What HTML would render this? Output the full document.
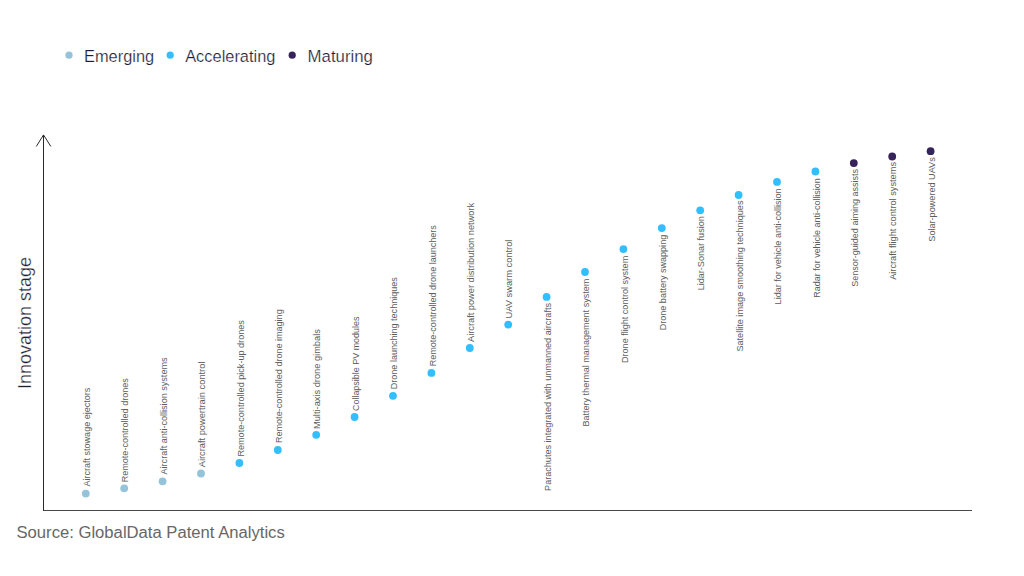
<!DOCTYPE html>
<html><head><meta charset="utf-8"><style>
html,body{margin:0;padding:0;background:#fff;}
body{width:1024px;height:576px;overflow:hidden;position:relative;font-family:"Liberation Sans",sans-serif;}
svg{position:absolute;left:0;top:0;}
</style></head><body>
<svg width="1024" height="576" viewBox="0 0 1024 576" font-family="Liberation Sans, sans-serif">
<circle cx="69" cy="55.2" r="3.6" fill="#94c3da"/>
<circle cx="170.2" cy="55.2" r="3.6" fill="#33bfff"/>
<circle cx="292.2" cy="55.2" r="3.6" fill="#35235a"/>
<g font-size="16.4" fill="#1c1c36" stroke="#fff" stroke-width="0.22">
<text x="84" y="62">Emerging</text>
<text x="185.2" y="62">Accelerating</text>
<text x="307.6" y="62" textLength="65.3" lengthAdjust="spacingAndGlyphs">Maturing</text>
</g>
<line x1="43" y1="510.5" x2="972" y2="510.5" stroke="#484848" stroke-width="1"/>
<g stroke="#2a2a2a" stroke-width="1" fill="none">
<line x1="43.5" y1="135" x2="43.5" y2="511"/>
<polyline points="36.3,146.4 43.5,134.9 50.8,146.4"/>
</g>
<text x="31" y="389" font-size="18" fill="#1e1e30" stroke="#fff" stroke-width="0.25" transform="rotate(-90 31 389)">Innovation stage</text>
<text x="16.5" y="537.6" font-size="16.65" fill="#676767">Source: GlobalData Patent Analytics</text>
<circle cx="85.80" cy="493.60" r="3.9" fill="#94c3da"/>
<circle cx="124.20" cy="488.30" r="3.9" fill="#94c3da"/>
<circle cx="162.60" cy="481.30" r="3.9" fill="#94c3da"/>
<circle cx="201.00" cy="473.50" r="3.9" fill="#94c3da"/>
<circle cx="239.40" cy="463.00" r="3.9" fill="#33bfff"/>
<circle cx="277.80" cy="450.00" r="3.9" fill="#33bfff"/>
<circle cx="316.20" cy="434.80" r="3.9" fill="#33bfff"/>
<circle cx="354.60" cy="417.00" r="3.9" fill="#33bfff"/>
<circle cx="393.00" cy="395.80" r="3.9" fill="#33bfff"/>
<circle cx="431.40" cy="372.90" r="3.9" fill="#33bfff"/>
<circle cx="469.80" cy="348.00" r="3.9" fill="#33bfff"/>
<circle cx="508.20" cy="324.60" r="3.9" fill="#33bfff"/>
<circle cx="546.60" cy="296.90" r="3.9" fill="#33bfff"/>
<circle cx="585.00" cy="272.00" r="3.9" fill="#33bfff"/>
<circle cx="623.40" cy="249.10" r="3.9" fill="#33bfff"/>
<circle cx="661.80" cy="228.10" r="3.9" fill="#33bfff"/>
<circle cx="700.20" cy="210.30" r="3.9" fill="#33bfff"/>
<circle cx="738.60" cy="195.00" r="3.9" fill="#33bfff"/>
<circle cx="777.00" cy="181.90" r="3.9" fill="#33bfff"/>
<circle cx="815.40" cy="171.50" r="3.9" fill="#33bfff"/>
<circle cx="853.80" cy="163.10" r="3.9" fill="#35235a"/>
<circle cx="892.20" cy="156.50" r="3.9" fill="#35235a"/>
<circle cx="930.60" cy="151.20" r="3.9" fill="#35235a"/>
<g font-size="9" fill="#5c5c5c">
<text x="90.00" y="486.60" textLength="98.95" lengthAdjust="spacingAndGlyphs" transform="rotate(-90 90.00 486.60)">Aircraft stowage ejectors</text>
<text x="128.40" y="482.30" textLength="104.16" lengthAdjust="spacingAndGlyphs" transform="rotate(-90 128.40 482.30)">Remote-controlled drones</text>
<text x="166.80" y="474.50" textLength="117.05" lengthAdjust="spacingAndGlyphs" transform="rotate(-90 166.80 474.50)">Aircraft anti-collision systems</text>
<text x="205.20" y="467.30" textLength="105.76" lengthAdjust="spacingAndGlyphs" transform="rotate(-90 205.20 467.30)">Aircraft powertrain control</text>
<text x="243.60" y="456.60" textLength="136.48" lengthAdjust="spacingAndGlyphs" transform="rotate(-90 243.60 456.60)">Remote-controlled pick-up drones</text>
<text x="282.00" y="443.00" textLength="133.68" lengthAdjust="spacingAndGlyphs" transform="rotate(-90 282.00 443.00)">Remote-controlled drone imaging</text>
<text x="320.40" y="429.00" textLength="99.87" lengthAdjust="spacingAndGlyphs" transform="rotate(-90 320.40 429.00)">Multi-axis drone gimbals</text>
<text x="358.80" y="411.00" textLength="94.44" lengthAdjust="spacingAndGlyphs" transform="rotate(-90 358.80 411.00)">Collapsible PV modules</text>
<text x="397.20" y="389.20" textLength="111.99" lengthAdjust="spacingAndGlyphs" transform="rotate(-90 397.20 389.20)">Drone launching techniques</text>
<text x="435.60" y="366.30" textLength="141.18" lengthAdjust="spacingAndGlyphs" transform="rotate(-90 435.60 366.30)">Remote-controlled drone launchers</text>
<text x="474.00" y="342.00" textLength="139.17" lengthAdjust="spacingAndGlyphs" transform="rotate(-90 474.00 342.00)">Aircraft power distribution network</text>
<text x="512.40" y="318.40" textLength="78.80" lengthAdjust="spacingAndGlyphs" transform="rotate(-90 512.40 318.40)">UAV swarm control</text>
<text x="550.80" y="303.00" text-anchor="end" textLength="187.92" lengthAdjust="spacingAndGlyphs" transform="rotate(-90 550.80 303.00)">Parachutes integrated with unmanned aircrafts</text>
<text x="589.20" y="278.70" text-anchor="end" textLength="147.87" lengthAdjust="spacingAndGlyphs" transform="rotate(-90 589.20 278.70)">Battery thermal management system</text>
<text x="627.60" y="255.80" text-anchor="end" textLength="107.15" lengthAdjust="spacingAndGlyphs" transform="rotate(-90 627.60 255.80)">Drone flight control system</text>
<text x="666.00" y="234.80" text-anchor="end" textLength="95.46" lengthAdjust="spacingAndGlyphs" transform="rotate(-90 666.00 234.80)">Drone battery swapping</text>
<text x="704.40" y="216.20" text-anchor="end" textLength="74.15" lengthAdjust="spacingAndGlyphs" transform="rotate(-90 704.40 216.20)">Lidar-Sonar fusion</text>
<text x="742.80" y="200.50" text-anchor="end" textLength="151.11" lengthAdjust="spacingAndGlyphs" transform="rotate(-90 742.80 200.50)">Satellite image smoothing techniques</text>
<text x="781.20" y="188.40" text-anchor="end" textLength="115.97" lengthAdjust="spacingAndGlyphs" transform="rotate(-90 781.20 188.40)">Lidar for vehicle anti-collision</text>
<text x="819.60" y="178.20" text-anchor="end" textLength="119.45" lengthAdjust="spacingAndGlyphs" transform="rotate(-90 819.60 178.20)">Radar for vehicle anti-collision</text>
<text x="858.00" y="169.00" text-anchor="end" textLength="117.76" lengthAdjust="spacingAndGlyphs" transform="rotate(-90 858.00 169.00)">Sensor-guided aiming assists</text>
<text x="896.40" y="162.00" text-anchor="end" textLength="117.83" lengthAdjust="spacingAndGlyphs" transform="rotate(-90 896.40 162.00)">Aircraft flight control systems</text>
<text x="934.80" y="157.30" text-anchor="end" textLength="84.38" lengthAdjust="spacingAndGlyphs" transform="rotate(-90 934.80 157.30)">Solar-powered UAVs</text>
</g>
</svg>
</body></html>
